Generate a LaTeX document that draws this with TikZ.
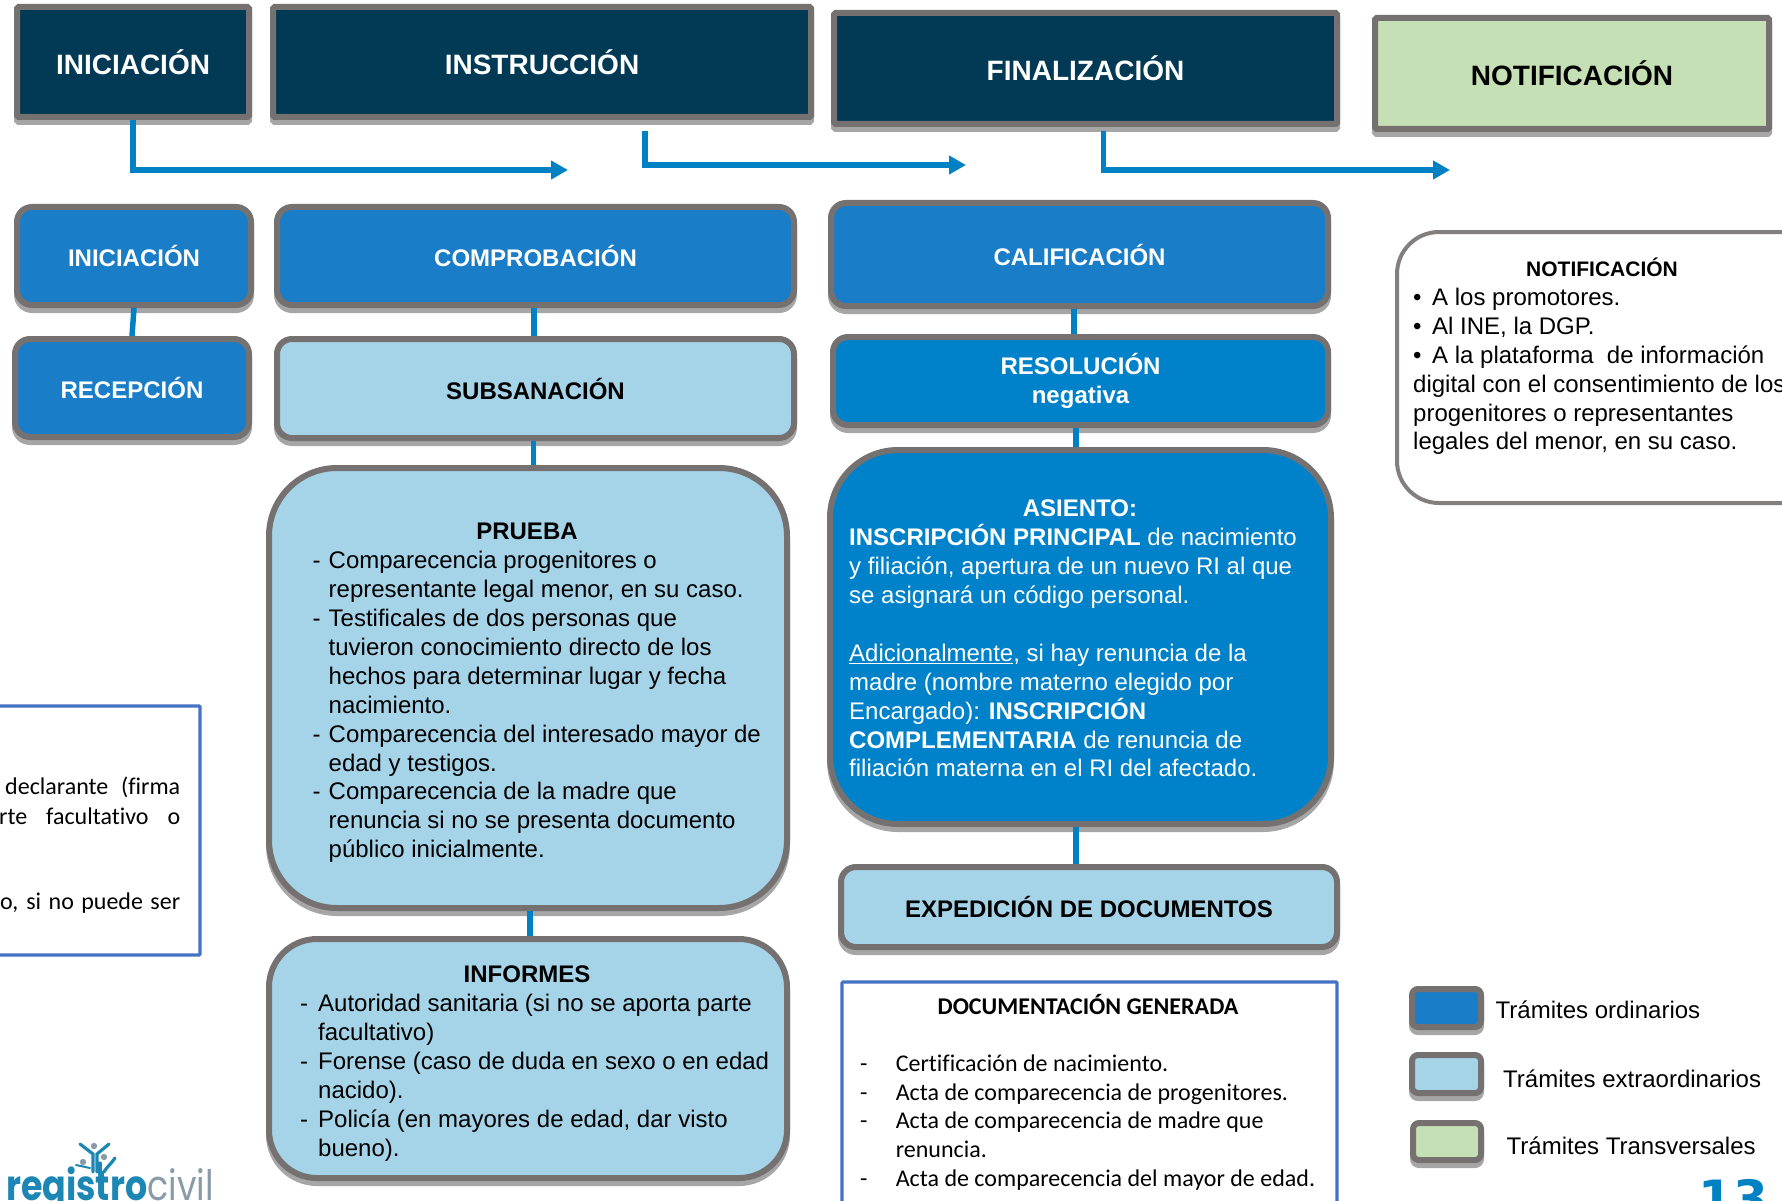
\documentclass[tikz,border=0pt]{standalone}
\usepackage{fontspec}
\usepackage{graphicx}
\setmainfont{Liberation Sans}
\newfontfamily\calf[Ligatures=NoCommon]{Carlito}
\newfontfamily\dejaf{DejaVu Sans}
\newfontfamily\popf{Poppins}
\usetikzlibrary{arrows.meta}
\definecolor{navy}{HTML}{023A55}
\definecolor{bord}{HTML}{767171}
\definecolor{shad}{HTML}{A6A6A6}
\definecolor{ordi}{HTML}{1A7DC7}
\definecolor{extr}{HTML}{A5D3E8}
\definecolor{tran}{HTML}{C5E0B4}
\definecolor{reso}{HTML}{0082CA}
\definecolor{conn}{HTML}{0081C3}
\definecolor{docb}{HTML}{4472C4}
\definecolor{logoa}{HTML}{1C86B4}
\definecolor{logob}{HTML}{8A9BA8}
\newcommand{\bx}[7]{%
 \pgfmathsetmacro\bxcx{(#2+#4)/2}\pgfmathsetmacro\bxcy{(#3+#5)/2}%
 \pgfmathsetmacro\bxw{#4-#2-6}\pgfmathsetmacro\bxh{#5-#3-6}%
 \node[#6,minimum width=\bxw pt,minimum height=\bxh pt] (#1) at (\bxcx,\bxcy) {#7};}
\newcommand{\xdi}{\makebox[16pt][l]{-}}
\newcommand{\xci}{\hspace*{16pt}}
\newcommand{\xdk}{\makebox[18pt][l]{-}}
\newcommand{\xck}{\hspace*{18pt}}
\newcommand{\xdd}{\makebox[35.6pt][l]{-}}
\newcommand{\xcd}{\hspace*{35.6pt}}
\newcommand{\xbu}{\makebox[19pt][l]{•}}
\tikzset{
 boxbase/.style={inner sep=0pt,align=center},
 sh/.style={preaction={draw=shad,transform canvas={yshift=-5pt}}},
 topbox/.style={boxbase,sh,draw=bord,line width=6pt,rounded corners=1.5pt,fill=navy,text=white,font=\bfseries\fontsize{28}{33}\selectfont},
 topgreen/.style={topbox,fill=tran,text=black},
 ordbox/.style={boxbase,sh,draw=bord,line width=6pt,rounded corners=15pt,fill=ordi,text=white,font=\bfseries\fontsize{24}{29}\selectfont},
 resbox/.style={ordbox,fill=reso},
 extbox/.style={ordbox,fill=extr,text=black},
 bigbox/.style={extbox,rounded corners=68pt},
 medbox/.style={extbox,rounded corners=48pt},
 asibox/.style={resbox,rounded corners=68pt},
 notbox/.style={boxbase,draw=bord!90,line width=4pt,rounded corners=42pt,fill=white},
 docbox/.style={boxbase,draw=docb,line width=3.2pt,rounded corners=1pt,fill=white},
 legbox/.style={ordbox,rounded corners=6pt},
 legext/.style={legbox,fill=extr},
 legtra/.style={legbox,fill=tran},
 linkline/.style={draw=conn,line width=5.5pt},
 flow/.style={draw=conn,line width=5.5pt,-{Triangle[length=17pt,width=18pt]}},
 body/.style={inner sep=0pt,anchor=north west,align=left,font=\fontsize{24}{28.9}\selectfont},
 bodyw/.style={body,text=white},
 docbody/.style={inner sep=0pt,anchor=north west,align=left,font=\calf\fontsize{24}{28.75}\selectfont},
 head/.style={inner sep=0pt,font=\bfseries\fontsize{24}{29}\selectfont},
 sidetext/.style={inner sep=0pt,anchor=base west,font=\calf\fontsize{24}{28}\selectfont},
 legtext/.style={inner sep=0pt,anchor=base west,font=\fontsize{24}{29}\selectfont},
 logoline/.style={draw=logoa,line width=3.2pt,line cap=round},
}
\begin{document}
\begin{tikzpicture}[x=1pt,y=-1pt]
\useasboundingbox (0,0) rectangle (1782,1201);
\clip (0,0) rectangle (1782,1201);
% top row
\bx{t1}{14}{4}{252}{120}{topbox}{INICIACIÓN}
\bx{t2}{270}{4}{814}{120}{topbox}{INSTRUCCIÓN}
\bx{t3}{831}{10}{1340}{127}{topbox}{FINALIZACIÓN}
\bx{t4}{1372}{15}{1772}{132}{topgreen}{NOTIFICACIÓN}
\coordinate (e1) at (568,170);
\coordinate (e2) at (966,165);
\coordinate (e3) at (1450,170);
\draw[flow] (t1.south) |- (e1);
\draw[flow] ([xshift=103pt,yshift=-11pt]t2.south) |- (e2);
\draw[flow] ([xshift=18pt,yshift=-4pt]t3.south) |- (e3);
% column 1
\bx{ini}{14}{204}{254}{308}{ordbox}{INICIACIÓN}
\bx{rec}{12}{336}{252}{440}{ordbox}{RECEPCIÓN}
\draw[linkline] (ini.south) -- (rec.north);
% column 2
\bx{com}{274}{204}{797}{308}{ordbox}{COMPROBACIÓN}
\bx{sub}{274}{336}{797}{441}{extbox}{SUBSANACIÓN}
\bx{pru}{266}{465}{790}{911}{bigbox}{}
\bx{inf}{266}{936}{790}{1181}{medbox}{}
\draw[linkline] ([xshift=-1.5pt]com.south) -- ([xshift=-1.5pt]com.south |- sub.north);
\draw[linkline] ([xshift=-2pt]sub.south) -- ([xshift=-2pt]sub.south |- pru.north);
\draw[linkline] ([xshift=2pt]pru.south) -- ([xshift=2pt]pru.south |- inf.north);
\node[head] (prh) at (527,531) {PRUEBA};
\node[body] (prt) at (312.5,548.3) {\strut\xdi Comparecencia progenitores o\\
\xci representante legal menor, en su caso.\\
\xdi Testificales de dos personas que\\
\xci tuvieron conocimiento directo de los\\
\xci hechos para determinar lugar y fecha\\
\xci nacimiento.\\
\xdi Comparecencia del interesado mayor de\\
\xci edad y testigos.\\
\xdi Comparecencia de la madre que\\
\xci renuncia si no se presenta documento\\
\xci público inicialmente.};
\node[head] (inh) at (527,974) {INFORMES};
\node[body] (int) at (300,991.3) {\strut\xdk Autoridad sanitaria (si no se aporta parte\\
\xck facultativo)\\
\xdk Forense (caso de duda en sexo o en edad\\
\xck nacido).\\
\xdk Policía (en mayores de edad, dar visto\\
\xck bueno).};
% column 3
\bx{cal}{828}{200}{1331}{309}{ordbox}{CALIFICACIÓN}
\bx{res}{830}{334}{1331}{428}{resbox}{RESOLUCIÓN\\negativa}
\bx{asi}{827}{447}{1334}{827}{asibox}{}
\bx{exp}{838}{864}{1340}{950}{extbox}{EXPEDICIÓN DE DOCUMENTOS}
\draw[linkline] ([xshift=-5.5pt]cal.south) -- ([xshift=-5.5pt]cal.south |- res.north);
\draw[linkline] ([xshift=-4.5pt]res.south) -- ([xshift=-4.5pt]res.south |- asi.north);
\draw[linkline] ([xshift=-4.5pt]asi.south) -- ([xshift=-4.5pt]asi.south |- exp.north);
\node[head,text=white] (ash) at (1080,508) {ASIENTO:};
\node[bodyw] (ast) at (849,524.3) {\strut\textbf{INSCRIPCIÓN PRINCIPAL} de nacimiento\\
y filiación, apertura de un nuevo RI al que\\
se asignará un código personal.\\[28.9pt]
\underline{Adicionalmente}, si hay renuncia de la\\
madre (nombre materno elegido por\\
Encargado): \textbf{INSCRIPCIÓN}\\
\textbf{COMPLEMENTARIA} de renuncia de\\
filiación materna en el RI del afectado.};
% documentation box
\bx{doc}{839}{979}{1340}{1240}{docbox}{}
\node[inner sep=0pt,font=\calf\bfseries\fontsize{24}{26}\selectfont] (doh) at (1088,1004) {DOCUMENTACIÓN GENERADA};
\node[docbody] (dot) at (860,1051) {\strut\xdd Certificación de nacimiento.\\
\xdd Acta de comparecencia de progenitores.\\
\xdd Acta de comparecencia de madre que\\
\xcd renuncia.\\
\xdd Acta de comparecencia del mayor de edad.};
% notification box
\bx{not}{1394}{229}{1830}{506}{notbox}{}
\node[inner sep=0pt,font=\bfseries\fontsize{21}{25}\selectfont] (noh) at (1602,267) {NOTIFICACIÓN};
\node[body] (not1) at (1413,285) {\strut\xbu A los promotores.\\
\xbu Al INE, la DGP.\\
\xbu A la plataforma\ \ de información\\
digital con el consentimiento de los\\
progenitores o representantes\\
legales del menor, en su caso.};
% left box
\bx{lef}{-20}{703}{203}{958}{docbox}{}
\node[sidetext] (l1) at (5,794) {\makebox[175pt][s]{declarante (firma}};
\node[sidetext] (l2) at (-1,824) {\makebox[181pt][s]{rte facultativo o}};
\node[sidetext] (l3) at (0,909) {\makebox[180pt][s]{o, si no puede ser}};
% legend
\bx{lg1}{1409}{986}{1484}{1030}{legbox}{}
\bx{lg2}{1409}{1052}{1484}{1096}{legext}{}
\bx{lg3}{1410}{1120}{1484}{1163}{legtra}{}
\node[legtext] (tx1) at (1495.5,1018) {Trámites ordinarios};
\node[legtext] (tx2) at (1503,1087) {Trámites extraordinarios};
\node[legtext] (tx3) at (1506.5,1154) {Trámites Transversales};
% page number
\node[inner sep=0pt,anchor=base,text=conn,font=\dejaf\bfseries\fontsize{50}{50}\selectfont] (pg) at (1733,1216) {13};
% logo
\node[inner sep=0pt,anchor=base west,font=\popf\fontsize{42}{42}\selectfont] (lg) at (6,1200) {\scalebox{.83}[1]{\textcolor{logoa}{\bfseries registro}\textcolor{logob}{civil}}};
\draw[logoline] (80,1144) -- (93,1154) -- (93,1172);
\draw[logoline] (109,1144) -- (97,1154) -- (97,1172);
\draw[logoline] (115,1158) .. controls (110,1165) and (106,1168) .. (104,1172);
\draw[logoline] (100,1172) -- (100,1163);
\draw[logoline,line width=2pt] (76,1165) -- (90,1168);
\fill[logob] (94,1146) circle (3.2);
\fill[logob] (104,1157) circle (3.2);
\fill[logob] (83,1162) circle (3.2);
\end{tikzpicture}
\end{document}
